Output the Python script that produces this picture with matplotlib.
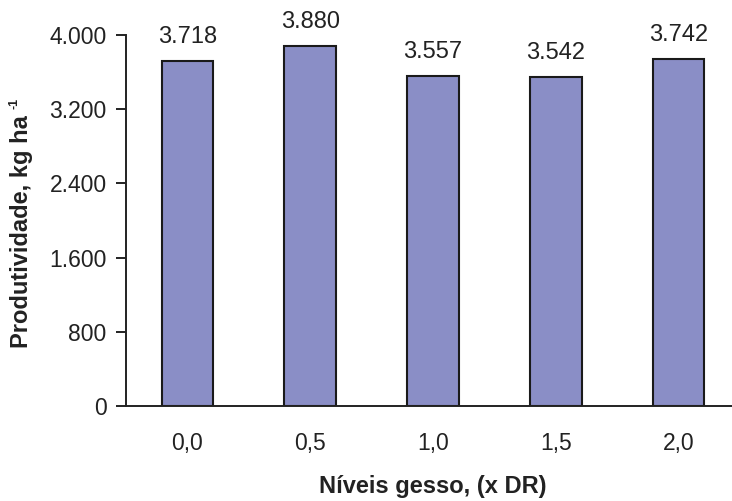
import matplotlib
matplotlib.use("Agg")
import matplotlib.pyplot as plt

# data
niveis = ["0,0", "0,5", "1,0", "1,5", "2,0"]
produtividade = [3718, 3880, 3557, 3542, 3742]
yticks = [0, 800, 1600, 2400, 3200, 4000]


def fmt_br(v):
    # thousands separator as in Portuguese
    return f"{v:,.0f}".replace(",", ".")


plt.rcParams['font.family'] = ['Liberation Sans', 'DejaVu Sans']
W, H = 732, 501

fig = plt.figure(figsize=(W / 100, H / 100), dpi=100)
ax = fig.add_axes([126 / W, 95 / H, 614 / W, 371 / H])

x = range(len(niveis))
bars = ax.bar(x, produtividade, width=0.42, color='#8a8ec6',
              edgecolor='#1a1a1a', linewidth=1.5, zorder=2)

for xi, v in zip(x, produtividade):
    ax.text(xi, v + 140, fmt_br(v), ha='center', va='bottom', fontsize=17,
            color='#222222')

ax.set_xlim(-0.5, 4.5)
ax.set_ylim(0, 4000)
ax.set_yticks(yticks)
ax.set_yticklabels([fmt_br(t) for t in yticks])
ax.set_xticks(list(x))
ax.set_xticklabels(niveis)

for s in ['top', 'right']:
    ax.spines[s].set_visible(False)
for s in ['left', 'bottom']:
    ax.spines[s].set_linewidth(1.4)
    ax.spines[s].set_color('#222222')

ax.tick_params(axis='y', direction='out', length=7, width=1.4,
               color='#222222', labelsize=16.5, labelcolor='#222222', pad=7)
ax.tick_params(axis='x', length=0, labelsize=16.5, labelcolor='#222222', pad=19)

ax.set_xlabel('Níveis gesso, (x DR)', fontsize=17, fontweight='bold',
              color='#222222', labelpad=14)

# y label drawn by hand so the superscript keeps a short hyphen
ylab = fig.text(28 / W, (H - 348) / H, 'Produtividade, kg ha', rotation=90,
                rotation_mode='anchor', ha='left', va='baseline',
                fontsize=17, fontweight='bold', color='#222222')
fig.canvas.draw()
bb = ylab.get_window_extent()
fig.text(17 / W, (bb.y1 + 6) / H, '-1', rotation=90, rotation_mode='anchor',
         ha='left', va='baseline', fontsize=9, fontweight='bold',
         color='#222222')

fig.savefig('out.png', dpi=100)
